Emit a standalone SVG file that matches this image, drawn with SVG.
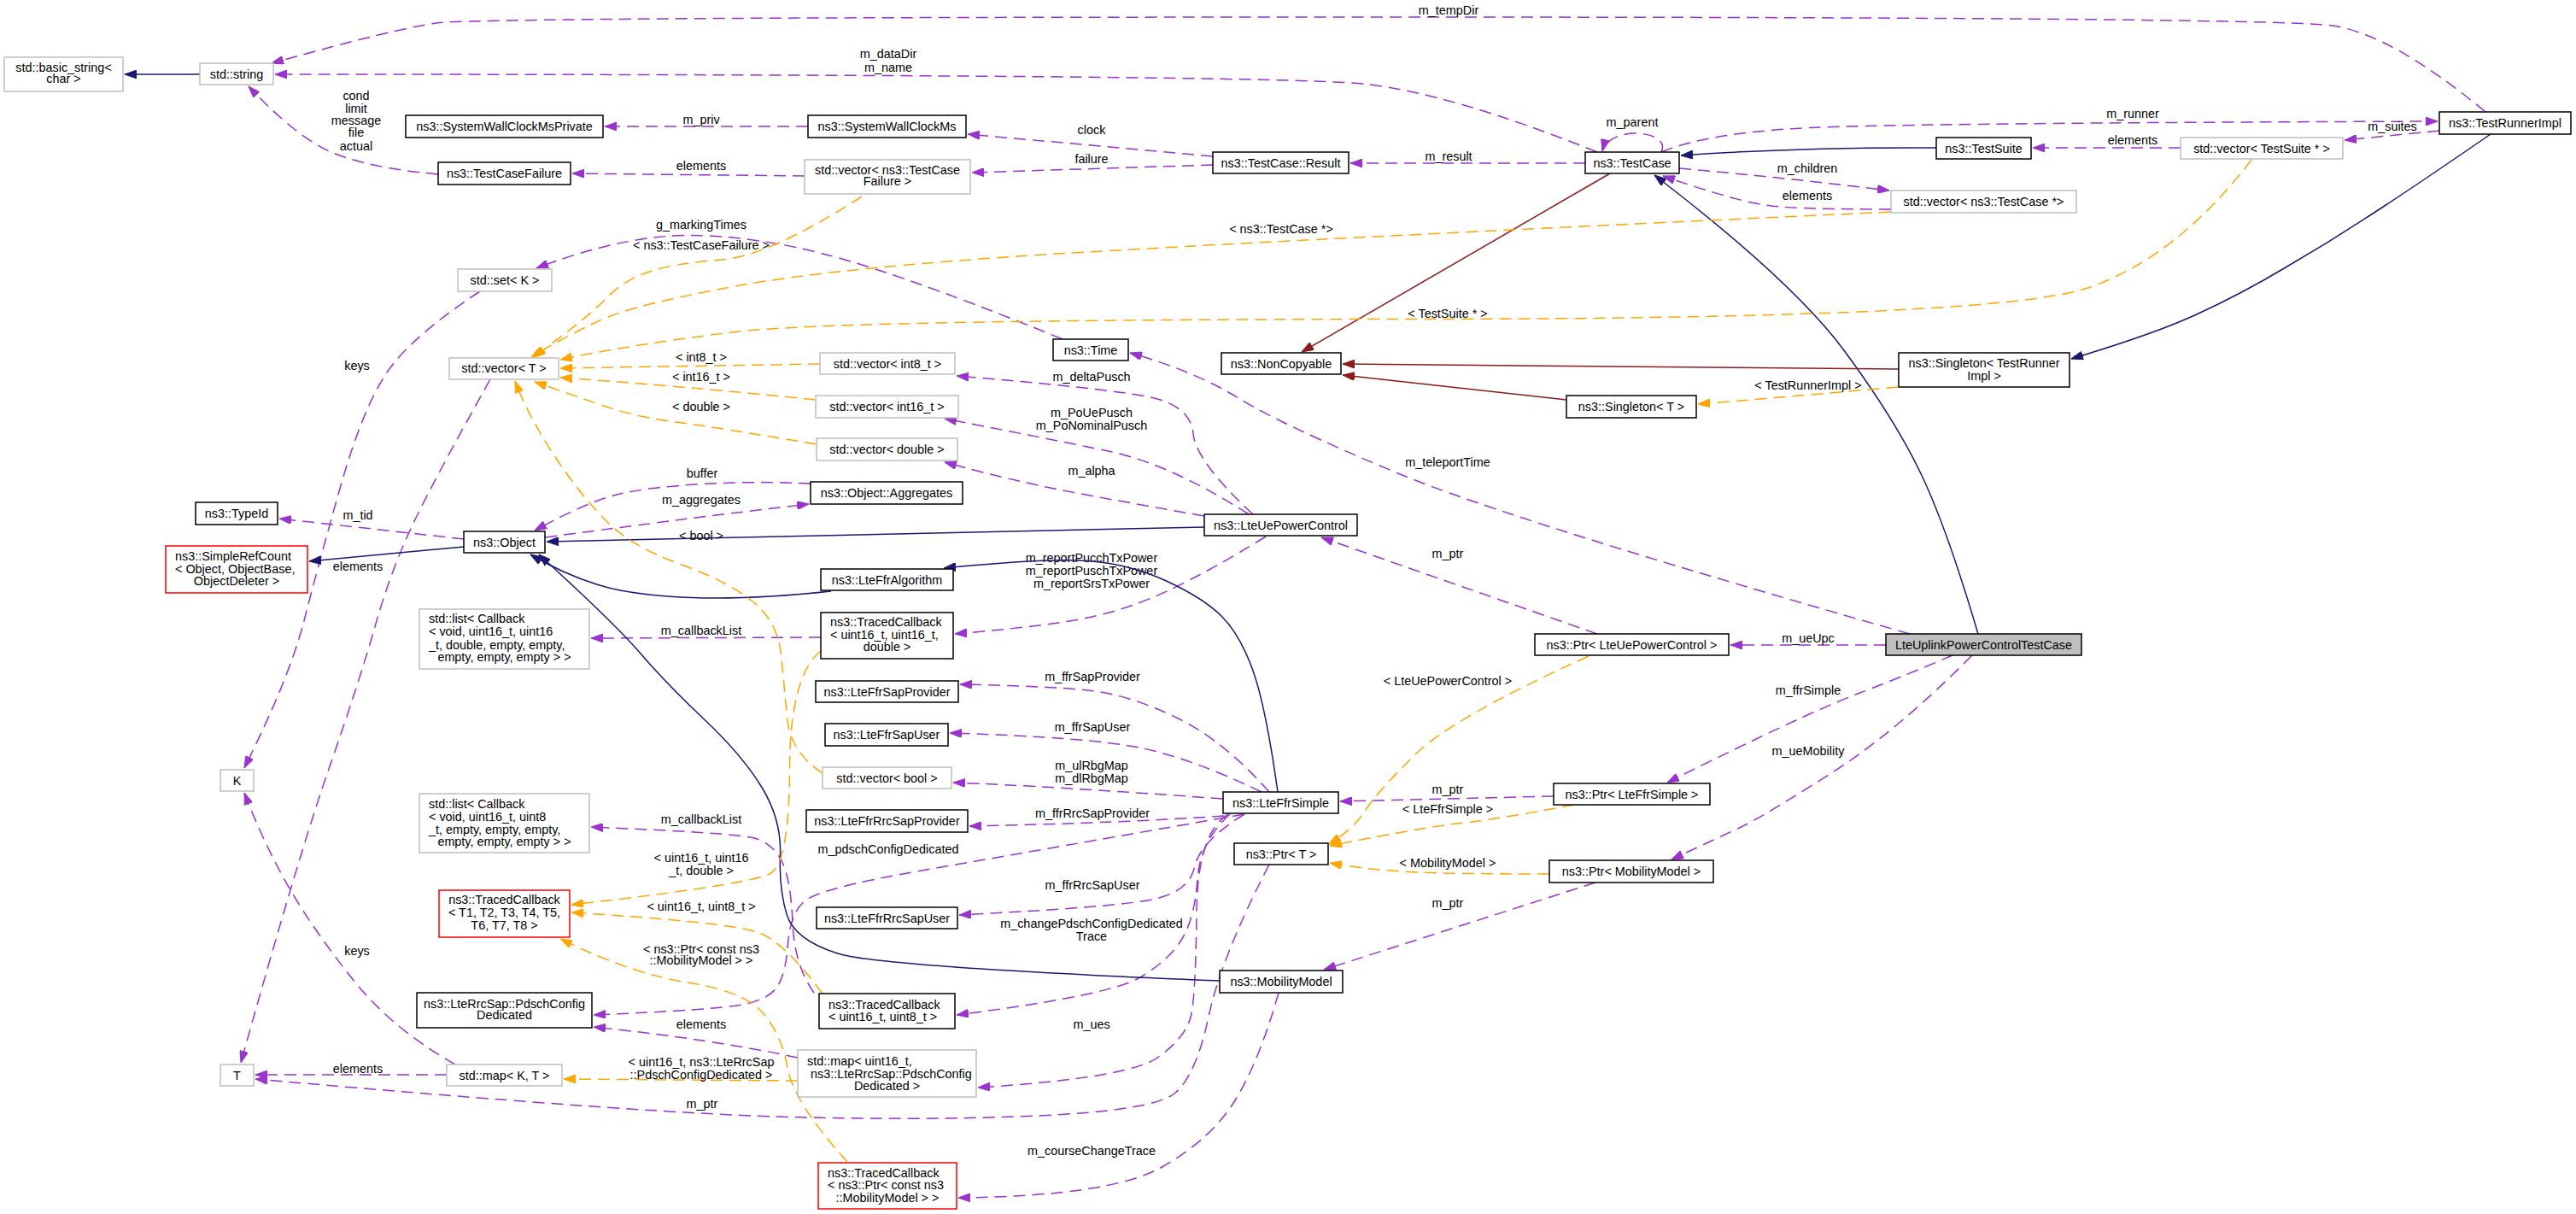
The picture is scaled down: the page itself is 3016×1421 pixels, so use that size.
<svg xmlns="http://www.w3.org/2000/svg" width="3016" height="1421" viewBox="0 0 3016 1421">
<style>
text{font-family:"Liberation Sans",Arial,sans-serif;font-size:14.4px;fill:#000}
.c{text-anchor:middle}
.n rect{fill:#fff;stroke:#000;stroke-width:1.5}
.g rect{fill:#fff;stroke:#bfbfbf;stroke-width:1.5}
.r rect{fill:#fff;stroke:#ff0000;stroke-width:1.5}
.m rect{fill:#bfbfbf;stroke:#000;stroke-width:1.5}
#edges path{fill:none;stroke-width:1.5}
#edges .p{stroke:#9a32cd;stroke-dasharray:14,8;marker-end:url(#ap)}
#edges .o{stroke:#ffa500;stroke-dasharray:14,8;marker-end:url(#ao)}
#edges .b{stroke:#191970;marker-end:url(#ab)}
#edges .k{stroke:#8b1a1a;marker-end:url(#ak)}
</style>
<defs>
<marker id="ap" markerUnits="userSpaceOnUse" markerWidth="14" markerHeight="10" viewBox="0 0 14 10" refX="14" refY="5" orient="auto"><path d="M0,0 L14,5 L0,10 z" fill="#9a32cd" stroke="#9a32cd" stroke-width="1"/></marker>
<marker id="ao" markerUnits="userSpaceOnUse" markerWidth="14" markerHeight="10" viewBox="0 0 14 10" refX="14" refY="5" orient="auto"><path d="M0,0 L14,5 L0,10 z" fill="#ffa500" stroke="#ffa500" stroke-width="1"/></marker>
<marker id="ab" markerUnits="userSpaceOnUse" markerWidth="14" markerHeight="10" viewBox="0 0 14 10" refX="14" refY="5" orient="auto"><path d="M0,0 L14,5 L0,10 z" fill="#191970" stroke="#191970" stroke-width="1"/></marker>
<marker id="ak" markerUnits="userSpaceOnUse" markerWidth="14" markerHeight="10" viewBox="0 0 14 10" refX="14" refY="5" orient="auto"><path d="M0,0 L14,5 L0,10 z" fill="#8b1a1a" stroke="#8b1a1a" stroke-width="1"/></marker>
</defs>
<rect x="0" y="0" width="3016" height="1421" fill="#fff"/>
<g id="edges">
<path class="p" d="M2910,131 Q2800,40 2731,30 Q2662,20 1610,20 Q557,20 511,27 Q465,33 318,74"/>
<text class="c" x="1696" y="17">m_tempDir</text>
<path class="p" d="M1870,178 Q1700,110 1600,98.5 Q1500,87 322,87"/>
<text class="c" x="1040" y="68">m_dataDir</text><text class="c" x="1040" y="84">m_name</text>
<path class="p" d="M1945,178 C1958,152 1884,146 1876,177"/>
<text class="c" x="1911" y="148">m_parent</text>
<path class="p" d="M1856,191 L1581,191"/>
<text class="c" x="1696" y="188">m_result</text>
<path class="p" d="M1420,183 L1133,157"/>
<text class="c" x="1278" y="157">clock</text>
<path class="p" d="M1420,193 L1138,202"/>
<text class="c" x="1278" y="191">failure</text>
<path class="p" d="M946,148 L708,148"/>
<text class="c" x="821" y="145">m_priv</text>
<path class="p" d="M942,206 L670,203"/>
<text class="c" x="821" y="199">elements</text>
<path class="p" d="M513,204 Q436,197 392.5,180 Q349,163 291,101"/>
<text class="c" x="417" y="117">cond</text><text class="c" x="417" y="132">limit</text><text class="c" x="417" y="146">message</text><text class="c" x="417" y="160">file</text><text class="c" x="417" y="176">actual</text>
<path class="p" d="M1966,197 Q2090,208 2212,223"/>
<text class="c" x="2116" y="202">m_children</text>
<path class="p" d="M2214,245 Q2110,245 2073.5,241 Q2037,237 1947,206"/>
<text class="c" x="2116" y="234">elements</text>
<path class="p" d="M1945,178 Q2000,155 2120,149.5 Q2240,144 2854,142"/>
<text class="c" x="2497" y="138">m_runner</text>
<path class="p" d="M2856,153 L2745,164"/>
<text class="c" x="2801" y="153">m_suites</text>
<path class="p" d="M2553,173 L2380,173"/>
<text class="c" x="2497" y="169">elements</text>
<path class="p" d="M1244,397 Q1031,310 934,290 Q837,270 770,277.5 Q703,285 628,314"/>
<text class="c" x="821" y="268">g_markingTimes</text>
<path class="p" d="M2236,742 Q1771,610 1635.5,553.5 Q1500,497 1450,466 Q1400,435 1323,413"/>
<text class="c" x="1695" y="546">m_teleportTime</text>
<path class="p" d="M1467,602 Q1400,540 1397,507.5 Q1394,475 1347,465 Q1300,455 1120,440"/>
<text class="c" x="1278" y="446">m_deltaPusch</text>
<path class="p" d="M1462,602 Q1370,543 1297.5,528 Q1225,513 1106,490"/>
<text class="c" x="1278" y="488">m_PoUePusch</text><text class="c" x="1278" y="503">m_PoNominalPusch</text>
<path class="p" d="M1410,604 Q1273,580 1224.5,570 Q1176,560 1106,541"/>
<text class="c" x="1278" y="556">m_alpha</text>
<path class="p" d="M949,566 Q885,563 822.5,566.5 Q760,570 724,578.5 Q688,587 626,621"/>
<text class="c" x="822" y="559">buffer</text>
<path class="p" d="M638,629 Q760,613 798.5,608 Q837,603 947,590"/>
<text class="c" x="821" y="590">m_aggregates</text>
<path class="p" d="M543,631 L327,607"/>
<text class="c" x="419" y="608">m_tid</text>
<path class="p" d="M1482,628 Q1419,667 1370.5,690 Q1322,713 1273.5,723 Q1225,733 1118,742"/>
<text class="c" x="1278" y="658">m_reportPucchTxPower</text><text class="c" x="1278" y="673">m_reportPuschTxPower</text><text class="c" x="1278" y="688">m_reportSrsTxPower</text>
<path class="p" d="M961,746 L692,747"/>
<text class="c" x="821" y="743">m_callbackList</text>
<path class="p" d="M1486,927 Q1433,867 1377.5,840 Q1322,813 1273.5,808 Q1225,803 1124,801"/>
<text class="c" x="1279" y="797">m_ffrSapProvider</text>
<path class="p" d="M1477,927 Q1394,887 1333.5,875 Q1273,863 1112,858"/>
<text class="c" x="1279" y="856">m_ffrSapUser</text>
<path class="p" d="M1432,935 Q1225,920 1116,916"/>
<text class="c" x="1278" y="901">m_ulRbgMap</text><text class="c" x="1278" y="916">m_dlRbgMap</text>
<path class="p" d="M1870,742 L1547,629"/>
<text class="c" x="1695" y="653">m_ptr</text>
<path class="p" d="M2208,755 L2026,755"/>
<text class="c" x="2117" y="752">m_ueUpc</text>
<path class="p" d="M2286,767 Q2240,787 2175,812 Q2110,837 1952,916"/>
<text class="c" x="2117" y="813">m_ffrSimple</text>
<path class="p" d="M2309,767 Q2220,857 2141,907 Q2062,957 2037.5,968.5 Q2013,980 1957,1006"/>
<text class="c" x="2117" y="884">m_ueMobility</text>
<path class="p" d="M1819,932 L1569,938"/>
<text class="c" x="1695" y="929">m_ptr</text>
<path class="p" d="M1868,1033 L1550,1135"/>
<text class="c" x="1695" y="1062">m_ptr</text>
<path class="p" d="M1497,1162 Q1475,1240 1447,1286.5 Q1419,1333 1359.5,1366.5 Q1300,1400 1122,1402"/>
<text class="c" x="1278" y="1352">m_courseChangeTrace</text>
<path class="p" d="M1433,955 Q1322,963 1135,967"/>
<text class="c" x="1279" y="957">m_ffrRrcSapProvider</text>
<path class="p" d="M1457,953 Q1200,998 1079,1019 Q958,1040 941.5,1055 Q925,1070 922.5,1105 Q920,1140 910,1155 Q900,1170 868.5,1176 Q837,1182 695,1188"/>
<text class="c" x="1040" y="999">m_pdschConfigDedicated</text>
<path class="p" d="M1457,953 Q1405,985 1398.5,1015 Q1392,1045 1346,1053.5 Q1300,1062 1123,1071"/>
<text class="c" x="1279" y="1041">m_ffrRrcSapUser</text>
<path class="p" d="M1440,953 Q1405,985 1402,1029 Q1399,1073 1384.5,1098 Q1370,1123 1335,1144 Q1300,1165 1120,1188"/>
<text class="c" x="1278" y="1086">m_changePdschConfigDedicated</text><text class="c" x="1278" y="1101">Trace</text>
<path class="p" d="M1438,953 Q1402,975 1401,1067.5 Q1400,1160 1395,1186.5 Q1390,1213 1356,1237.5 Q1322,1262 1145,1273"/>
<text class="c" x="1278" y="1204">m_ues</text>
<path class="p" d="M1486,1012 Q1430,1120 1415,1190 Q1400,1260 1375,1280 Q1350,1300 1214.5,1306 Q1079,1312 909.5,1307 Q740,1302 299,1263"/>
<text class="c" x="822" y="1297">m_ptr</text>
<path class="p" d="M953,1162 Q930,1130 928,1080 Q926,1030 915.5,1008.5 Q905,987 883,981 Q861,975 692,968"/>
<text class="c" x="821" y="964">m_callbackList</text>
<path class="p" d="M934,1238 Q837,1217 695,1202"/>
<text class="c" x="821" y="1204">elements</text>
<path class="p" d="M523,1258 L299,1258"/>
<text class="c" x="419" y="1256">elements</text>
<path class="p" d="M562,341 Q480,395 452,437.5 Q424,480 398.5,570 Q373,660 356,726.5 Q339,793 286,899"/>
<text class="c" x="418" y="433">keys</text>
<path class="p" d="M533,1246 Q460,1205 414,1147.5 Q368,1090 339,1040 Q310,990 286,928"/>
<text class="c" x="418" y="1118">keys</text>
<path class="p" d="M574,444 Q520,540 490,600 Q460,660 440,730 Q420,800 385,900 Q350,1000 282,1244"/>
<text class="c" x="419" y="668">elements</text>
<path class="b" d="M234,87 L146,87"/>
<path class="b" d="M2267,173 Q2110,172 1968,182"/>
<path class="b" d="M2316,742 Q2280,620 2250,556.5 Q2220,493 2160,411.5 Q2100,330 1937,205"/>
<path class="b" d="M2916,157 Q2829,217 2778,250 Q2728,283 2676,313 Q2626,343 2575,366.5 Q2525,390 2425,420"/>
<path class="b" d="M543,640 L362,657"/>
<path class="b" d="M1410,617 L640,634"/>
<path class="b" d="M973,692 Q880,702 810,699.5 Q740,697 700,684.5 Q660,672 621,649"/>
<path class="b" d="M1428,1148 Q1031,1132 980.5,1116 Q930,1100 921,1070 Q912,1040 913.5,1000 Q915,960 892.5,922.5 Q870,885 825,842.5 Q780,800 750,765 Q720,730 631,649"/>
<path class="b" d="M1496,927 Q1482,827 1467,785 Q1452,743 1430.5,721.5 Q1409,700 1365.5,680 Q1322,660 1273.5,656.5 Q1225,653 1105,665"/>
<path class="k" d="M1885,203 L1524,412"/>
<path class="k" d="M2223,432 L1572,426"/>
<path class="k" d="M1834,468 L1572,439"/>
<path class="o" d="M1009,230 Q900,300 845,304 Q790,308 760,318 Q730,328 710,349 Q690,370 625,418"/>
<text class="c" x="821" y="292">&lt; ns3::TestCaseFailure &gt;</text>
<path class="o" d="M2214,248 Q1480,282 1231,297.5 Q982,313 861,335 Q740,357 700,376 Q660,395 622,418"/>
<text class="c" x="1500" y="273">&lt; ns3::TestCase *&gt;</text>
<path class="o" d="M2636,187 Q2550,300 2446,336.5 Q2342,373 1662,373.5 Q982,374 861,388.5 Q740,403 656,421"/>
<text class="c" x="1695" y="372">&lt; TestSuite * &gt;</text>
<path class="o" d="M960,426 L656,431"/>
<text class="c" x="821" y="423">&lt; int8_t &gt;</text>
<path class="o" d="M955,468 Q800,452 656,442"/>
<text class="c" x="821" y="446">&lt; int16_t &gt;</text>
<path class="o" d="M956,520 Q837,500 788.5,493.5 Q740,487 702,473.5 Q664,460 626,447"/>
<text class="c" x="821" y="481">&lt; double &gt;</text>
<path class="o" d="M963,905 Q925,880 921.5,840 Q918,800 914,763.5 Q910,727 880.5,703.5 Q851,680 795.5,660 Q740,640 710,610 Q680,580 650,535 Q620,490 603,446"/>
<text class="c" x="821" y="632">&lt; bool &gt;</text>
<path class="o" d="M961,762 Q925,790 924.5,900 Q924,1010 902,1022.5 Q880,1035 669,1059"/>
<text class="c" x="821" y="1009">&lt; uint16_t, uint16</text><text class="c" x="821" y="1024">_t, double &gt;</text>
<path class="o" d="M963,1163 Q920,1105 890.5,1092.5 Q861,1080 669,1068"/>
<text class="c" x="821" y="1066">&lt; uint16_t, uint8_t &gt;</text>
<path class="o" d="M992,1360 Q929,1290 922,1250 Q915,1210 892.5,1185 Q870,1160 805,1150 Q740,1140 656,1099"/>
<text class="c" x="821" y="1116">&lt; ns3::Ptr&lt; const ns3</text><text class="c" x="821" y="1129">::MobilityModel &gt; &gt;</text>
<path class="o" d="M934,1265 L660,1263"/>
<text class="c" x="821" y="1248">&lt; uint16_t, ns3::LteRrcSap</text><text class="c" x="821" y="1263">::PdschConfigDedicated &gt;</text>
<path class="o" d="M1860,768 Q1700,840 1655,885 Q1610,930 1597.5,950 Q1585,970 1556,988"/>
<text class="c" x="1695" y="802">&lt; LteUePowerControl &gt;</text>
<path class="o" d="M1843,942 Q1747,960 1710.5,963.5 Q1674,967 1557,990"/>
<text class="c" x="1695" y="952">&lt; LteFfrSimple &gt;</text>
<path class="o" d="M1814,1023 Q1698,1023 1649.5,1020.5 Q1601,1018 1557,1010"/>
<text class="c" x="1695" y="1015">&lt; MobilityModel &gt;</text>
<path class="o" d="M2222,453 Q2110,463 1988,473"/>
<text class="c" x="2117" y="456">&lt; TestRunnerImpl &gt;</text>
</g>
<g id="n_basic_string" class="g"><rect x="5" y="67" width="139" height="40"/><text class="c" x="74.5" y="84">std::basic_string&lt;</text><text class="c" x="74.5" y="97">char &gt;</text></g>
<g id="n_std_string" class="g"><rect x="234" y="74" width="86" height="25"/><text class="c" x="277" y="91.5">std::string</text></g>
<g id="n_swcms_private" class="n"><rect x="475" y="135" width="231" height="26"/><text class="c" x="590.5" y="152.5">ns3::SystemWallClockMsPrivate</text></g>
<g id="n_testcasefailure" class="n"><rect x="513" y="190" width="155" height="26"/><text class="c" x="590.5" y="207.5">ns3::TestCaseFailure</text></g>
<g id="n_set_k" class="g"><rect x="536" y="315" width="110" height="26"/><text class="c" x="591" y="332.5">std::set&lt; K &gt;</text></g>
<g id="n_vector_t" class="g"><rect x="526" y="419" width="128" height="25"/><text class="c" x="590" y="436">std::vector&lt; T &gt;</text></g>
<g id="n_swcms" class="n"><rect x="946" y="135" width="185" height="26"/><text class="c" x="1038.5" y="152.5">ns3::SystemWallClockMs</text></g>
<g id="n_vector_tcf" class="g"><rect x="942" y="187" width="194" height="40"/><text class="c" x="1039" y="204">std::vector&lt; ns3::TestCase</text><text class="c" x="1039" y="217">Failure &gt;</text></g>
<g id="n_result" class="n"><rect x="1420" y="178" width="159" height="25"/><text class="c" x="1499.5" y="195.5">ns3::TestCase::Result</text></g>
<g id="n_testcase" class="n"><rect x="1856" y="178" width="110" height="25"/><text class="c" x="1911" y="195.5">ns3::TestCase</text></g>
<g id="n_vector_tcptr" class="g"><rect x="2214" y="223" width="217" height="26"/><text class="c" x="2322.5" y="240.5">std::vector&lt; ns3::TestCase *&gt;</text></g>
<g id="n_testsuite" class="n"><rect x="2267" y="161" width="111" height="25"/><text class="c" x="2322.5" y="178.5">ns3::TestSuite</text></g>
<g id="n_vector_tsptr" class="g"><rect x="2553" y="161" width="190" height="25"/><text class="c" x="2648" y="178.5">std::vector&lt; TestSuite * &gt;</text></g>
<g id="n_testrunnerimpl" class="n"><rect x="2856" y="131" width="154" height="26"/><text class="c" x="2933" y="148.5">ns3::TestRunnerImpl</text></g>
<g id="n_singleton_tri" class="n"><rect x="2223" y="413" width="200" height="40"/><text class="c" x="2323" y="430">ns3::Singleton&lt; TestRunner</text><text class="c" x="2323" y="445">Impl &gt;</text></g>
<g id="n_singleton_t" class="n"><rect x="1834" y="463" width="152" height="26"/><text class="c" x="1910" y="480.5">ns3::Singleton&lt; T &gt;</text></g>
<g id="n_noncopyable" class="n"><rect x="1430" y="413" width="140" height="25"/><text class="c" x="1500" y="430.5">ns3::NonCopyable</text></g>
<g id="n_time" class="n"><rect x="1233" y="397" width="88" height="25"/><text class="c" x="1277" y="414.5">ns3::Time</text></g>
<g id="n_vector_int8" class="g"><rect x="960" y="413" width="158" height="25"/><text class="c" x="1039" y="430.5">std::vector&lt; int8_t &gt;</text></g>
<g id="n_vector_int16" class="g"><rect x="955" y="463" width="167" height="26"/><text class="c" x="1038.5" y="480.5">std::vector&lt; int16_t &gt;</text></g>
<g id="n_vector_double" class="g"><rect x="956" y="513" width="165" height="26"/><text class="c" x="1038.5" y="530.5">std::vector&lt; double &gt;</text></g>
<g id="n_aggregates" class="n"><rect x="949" y="564" width="178" height="26"/><text class="c" x="1038" y="581.5">ns3::Object::Aggregates</text></g>
<g id="n_lteuepowercontrol" class="n"><rect x="1410" y="602" width="179" height="25"/><text class="c" x="1499.5" y="619.5">ns3::LteUePowerControl</text></g>
<g id="n_lteffralgorithm" class="n"><rect x="961" y="666" width="155" height="25"/><text class="c" x="1038.5" y="683.5">ns3::LteFfrAlgorithm</text></g>
<g id="n_tc_u16u16d" class="n"><rect x="961" y="717" width="155" height="54"/><text x="972" y="733">ns3::TracedCallback</text><text x="972" y="748">&lt; uint16_t, uint16_t,</text><text class="c" x="1038.5" y="762">double &gt;</text></g>
<g id="n_lteffrsapprovider" class="n"><rect x="955" y="797" width="167" height="25"/><text class="c" x="1038.5" y="814.5">ns3::LteFfrSapProvider</text></g>
<g id="n_lteffrsapuser" class="n"><rect x="966" y="847" width="144" height="26"/><text class="c" x="1038" y="864.5">ns3::LteFfrSapUser</text></g>
<g id="n_vector_bool" class="g"><rect x="963" y="898" width="151" height="25"/><text class="c" x="1038.5" y="915.5">std::vector&lt; bool &gt;</text></g>
<g id="n_lteffrsimple" class="n"><rect x="1432" y="927" width="135" height="25"/><text class="c" x="1499.5" y="944.5">ns3::LteFfrSimple</text></g>
<g id="n_typeid" class="n"><rect x="229" y="588" width="96" height="26"/><text class="c" x="277" y="605.5">ns3::TypeId</text></g>
<g id="n_simplerefcount" class="r"><rect x="194" y="639" width="166" height="55"/><text x="205" y="656">ns3::SimpleRefCount</text><text x="205" y="671">&lt; Object, ObjectBase,</text><text class="c" x="277" y="685">ObjectDeleter &gt;</text></g>
<g id="n_object" class="n"><rect x="543" y="622" width="95" height="25"/><text class="c" x="590.5" y="639.5">ns3::Object</text></g>
<g id="n_list_cb1" class="g"><rect x="491" y="713" width="199" height="70"/><text x="502" y="729">std::list&lt; Callback</text><text x="502" y="744">&lt; void, uint16_t, uint16</text><text x="502" y="760">_t, double, empty, empty,</text><text class="c" x="590.5" y="774">empty, empty, empty &gt; &gt;</text></g>
<g id="n_k" class="g"><rect x="258" y="901" width="39" height="25"/><text class="c" x="277.5" y="918.5">K</text></g>
<g id="n_list_cb2" class="g"><rect x="491" y="929" width="199" height="69"/><text x="502" y="946">std::list&lt; Callback</text><text x="502" y="961">&lt; void, uint16_t, uint8</text><text x="502" y="976">_t, empty, empty, empty,</text><text class="c" x="590.5" y="990">empty, empty, empty &gt; &gt;</text></g>
<g id="n_tc_t" class="r"><rect x="514" y="1042" width="153" height="55"/><text class="c" x="590.5" y="1058">ns3::TracedCallback</text><text class="c" x="590.5" y="1073">&lt; T1, T2, T3, T4, T5,</text><text class="c" x="590.5" y="1088">T6, T7, T8 &gt;</text></g>
<g id="n_pdschconfigdedicated" class="n"><rect x="488" y="1162" width="205" height="41"/><text class="c" x="590.5" y="1180">ns3::LteRrcSap::PdschConfig</text><text class="c" x="590.5" y="1193">Dedicated</text></g>
<g id="n_t" class="g"><rect x="258" y="1246" width="39" height="25"/><text class="c" x="277.5" y="1263.5">T</text></g>
<g id="n_map_kt" class="g"><rect x="523" y="1246" width="135" height="25"/><text class="c" x="590.5" y="1263.5">std::map&lt; K, T &gt;</text></g>
<g id="n_lteffrrrcsapprovider" class="n"><rect x="944" y="948" width="189" height="26"/><text class="c" x="1038.5" y="965.5">ns3::LteFfrRrcSapProvider</text></g>
<g id="n_lteffrrrcsapuser" class="n"><rect x="956" y="1062" width="165" height="25"/><text class="c" x="1038.5" y="1079.5">ns3::LteFfrRrcSapUser</text></g>
<g id="n_tc_u16u8" class="n"><rect x="959" y="1163" width="159" height="41"/><text x="970" y="1181">ns3::TracedCallback</text><text x="970" y="1195">&lt; uint16_t, uint8_t &gt;</text></g>
<g id="n_map_u16" class="g"><rect x="934" y="1229" width="209" height="55"/><text x="945" y="1247">std::map&lt; uint16_t,</text><text x="949" y="1262">ns3::LteRrcSap::PdschConfig</text><text class="c" x="1038.5" y="1276">Dedicated &gt;</text></g>
<g id="n_tc_ptr" class="r"><rect x="958" y="1361" width="162" height="54"/><text x="969" y="1378">ns3::TracedCallback</text><text x="969" y="1392">&lt; ns3::Ptr&lt; const ns3</text><text class="c" x="1039" y="1407">::MobilityModel &gt; &gt;</text></g>
<g id="n_ptr_lteuepowercontrol" class="n"><rect x="1797" y="742" width="227" height="25"/><text class="c" x="1910.5" y="759.5">ns3::Ptr&lt; LteUePowerControl &gt;</text></g>
<g id="n_lteuplinkpowercontroltestcase" class="m"><rect x="2208" y="742" width="229" height="25"/><text class="c" x="2322.5" y="759.5">LteUplinkPowerControlTestCase</text></g>
<g id="n_ptr_lteffrsimple" class="n"><rect x="1819" y="917" width="183" height="25"/><text class="c" x="1910.5" y="934.5">ns3::Ptr&lt; LteFfrSimple &gt;</text></g>
<g id="n_ptr_t" class="n"><rect x="1445" y="987" width="110" height="25"/><text class="c" x="1500" y="1004.5">ns3::Ptr&lt; T &gt;</text></g>
<g id="n_ptr_mobilitymodel" class="n"><rect x="1814" y="1007" width="192" height="26"/><text class="c" x="1910" y="1024.5">ns3::Ptr&lt; MobilityModel &gt;</text></g>
<g id="n_mobilitymodel" class="n"><rect x="1428" y="1136" width="144" height="26"/><text class="c" x="1500" y="1153.5">ns3::MobilityModel</text></g>
</svg>
